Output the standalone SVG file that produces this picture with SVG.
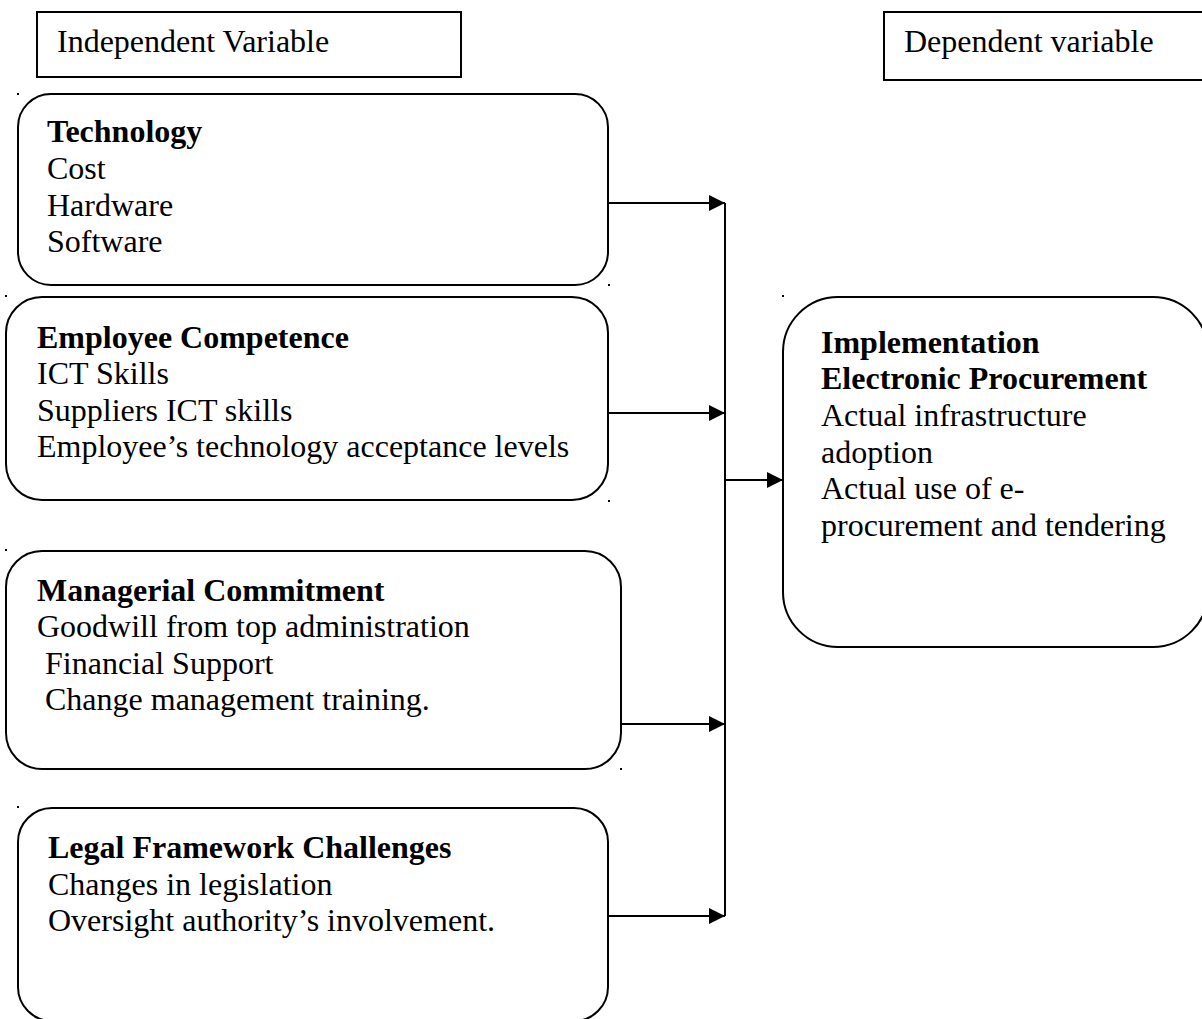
<svg xmlns="http://www.w3.org/2000/svg" width="1202" height="1019" viewBox="0 0 1202 1019">
<style>
  .box { fill: #fff; stroke: #000; stroke-width: 2; }
  .t { font-family: "Liberation Serif", "Times New Roman", serif; font-size: 32px; fill: #000; }
  .b { font-weight: bold; }
  .conn { stroke: #000; stroke-width: 2; fill: none; }
  .dot { fill: #000; }
</style>
<defs>
  <marker id="arr" markerUnits="userSpaceOnUse" markerWidth="17" markerHeight="17" refX="16" refY="8" orient="auto">
    <path d="M0,0 L16,8 L0,16 Z" fill="#000"/>
  </marker>
</defs>
<rect width="1202" height="1019" fill="#fff"/>

<g id="independent-label">
  <rect class="box" x="37" y="12" width="424" height="65"/>
  <text class="t" x="57" y="52">Independent Variable</text>
</g>
<g id="dependent-label">
  <rect class="box" x="884" y="12" width="320" height="68"/>
  <text class="t" x="904" y="52">Dependent variable</text>
</g>

<g id="technology">
  <rect class="box" x="18" y="94" width="590" height="191" rx="33" ry="33"/>
  <rect class="dot" x="17" y="93" width="2" height="2"/>
  <rect class="dot" x="608" y="284" width="2" height="2"/>
  <text class="t b" x="47" y="142">Technology</text>
  <text class="t" x="47" y="179">Cost</text>
  <text class="t" x="47" y="216">Hardware</text>
  <text class="t" x="47" y="252">Software</text>
</g>

<g id="employee-competence">
  <rect class="box" x="6" y="297" width="602" height="203" rx="36" ry="36"/>
  <rect class="dot" x="5" y="295" width="2" height="2"/>
  <rect class="dot" x="608" y="500" width="2" height="2"/>
  <text class="t b" x="37" y="348">Employee Competence</text>
  <text class="t" x="37" y="384">ICT Skills</text>
  <text class="t" x="37" y="421">Suppliers ICT skills</text>
  <text class="t" x="37" y="457">Employee’s technology acceptance levels</text>
</g>

<g id="managerial-commitment">
  <rect class="box" x="6" y="551" width="615" height="218" rx="36" ry="36"/>
  <rect class="dot" x="5" y="549" width="2" height="2"/>
  <rect class="dot" x="620" y="768" width="2" height="2"/>
  <text class="t b" x="37" y="601">Managerial Commitment</text>
  <text class="t" x="37" y="637">Goodwill from top administration</text>
  <text class="t" x="37" y="674" xml:space="preserve"> Financial Support</text>
  <text class="t" x="37" y="710" xml:space="preserve"> Change management training.</text>
</g>

<g id="legal-framework">
  <rect class="box" x="18" y="808" width="590" height="213" rx="34" ry="34"/>
  <rect class="dot" x="17" y="806" width="2" height="2"/>
  <text class="t b" x="48" y="858">Legal Framework Challenges</text>
  <text class="t" x="48" y="895">Changes in legislation</text>
  <text class="t" x="48" y="931">Oversight authority’s involvement.</text>
</g>

<g id="implementation">
  <rect class="box" x="783" y="297" width="425" height="350" rx="55" ry="55"/>
  <rect class="dot" x="782" y="295" width="2" height="2"/>
  <text class="t b" x="821" y="353">Implementation</text>
  <text class="t b" x="821" y="389">Electronic Procurement</text>
  <text class="t" x="821" y="426">Actual infrastructure</text>
  <text class="t" x="821" y="463">adoption</text>
  <text class="t" x="821" y="499">Actual use of e-</text>
  <text class="t" x="821" y="536">procurement and tendering</text>
</g>

<g id="connectors">
  <line class="conn" x1="608" y1="203" x2="725" y2="203" marker-end="url(#arr)"/>
  <line class="conn" x1="608" y1="413" x2="725" y2="413" marker-end="url(#arr)"/>
  <line class="conn" x1="621" y1="724" x2="725" y2="724" marker-end="url(#arr)"/>
  <line class="conn" x1="608" y1="916" x2="725" y2="916" marker-end="url(#arr)"/>
  <line class="conn" x1="725" y1="203" x2="725" y2="916"/>
  <line class="conn" x1="725" y1="480" x2="783" y2="480" marker-end="url(#arr)"/>
</g>
</svg>
